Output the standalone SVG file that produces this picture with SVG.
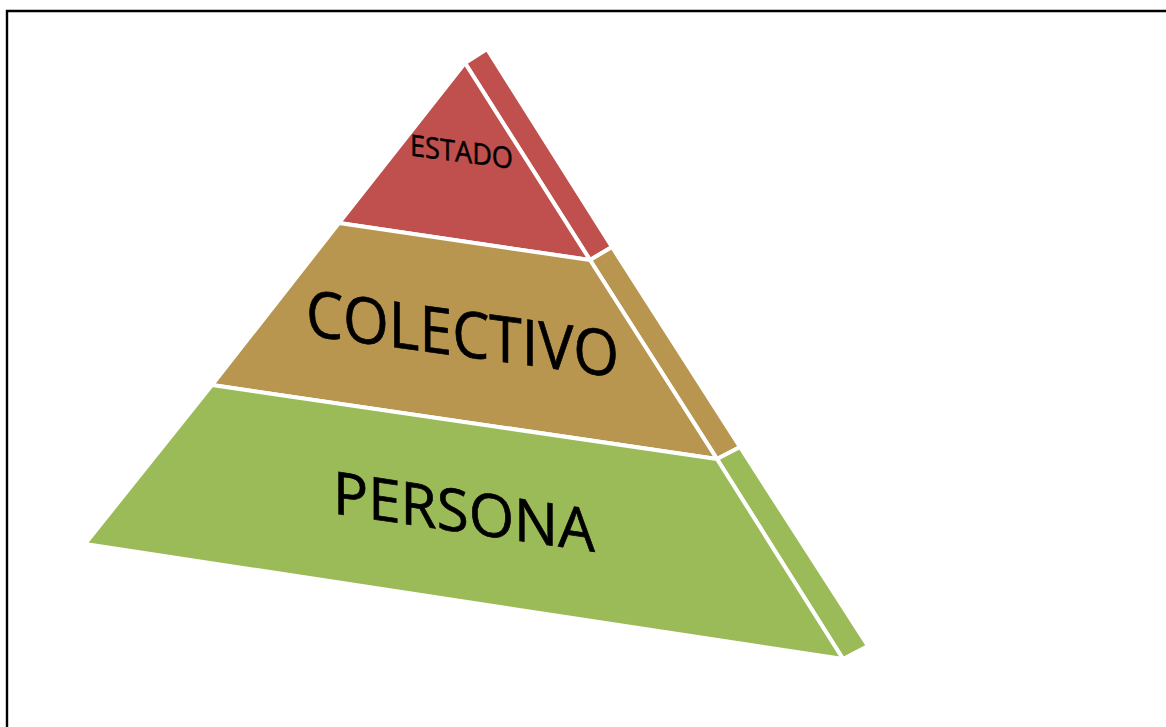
<svg xmlns="http://www.w3.org/2000/svg" width="1166" height="727" viewBox="0 0 1166 727">
<style>
.face{stroke:#fff;stroke-width:4;stroke-linejoin:miter}
.red{fill:#C0504D}
.tan{fill:#B9964F}
.green{fill:#9BBB59}
.lbl{font-family:"Open Sans","Noto Sans","Liberation Sans",sans-serif;fill:#000;stroke:#000;stroke-width:0.7}
</style>
<rect width="1166" height="727" fill="#fff"/>
<path d="M7,727 V11 H1166" fill="none" stroke="#000" stroke-width="2.4"/>
<g id="side">
<polygon class="face red" points="465,63 487,49 612,247 590,260"/>
<polygon class="face tan" points="590,260 612,247 740,447 717,459"/>
<polygon class="face green" points="717,459 740,447 868,646 843,659"/>
</g>
<g id="estado">
<polygon class="face red" points="465,63 590,260 339,223"/>
<text class="lbl" transform="translate(410,155.5) skewY(7.4)" x="0" y="0" font-size="29.5" textLength="103" lengthAdjust="spacingAndGlyphs" style="stroke-width:0.5">ESTADO</text>
</g>
<g id="colectivo">
<polygon class="face tan" points="339,223 590,260 717,459 212,385"/>
<text class="lbl" transform="translate(306,335.3) skewY(7.7)" x="0" y="0" font-size="64" textLength="313" lengthAdjust="spacingAndGlyphs">COLECTIVO</text>
</g>
<g id="persona">
<polygon class="face green" points="212,385 717,459 843,659 85,544"/>
<text class="lbl" transform="translate(333,513.3) skewY(8.4)" x="0" y="0" font-size="59" textLength="262" lengthAdjust="spacingAndGlyphs">PERSONA</text>
</g>
<g id="connectors"/>
</svg>
